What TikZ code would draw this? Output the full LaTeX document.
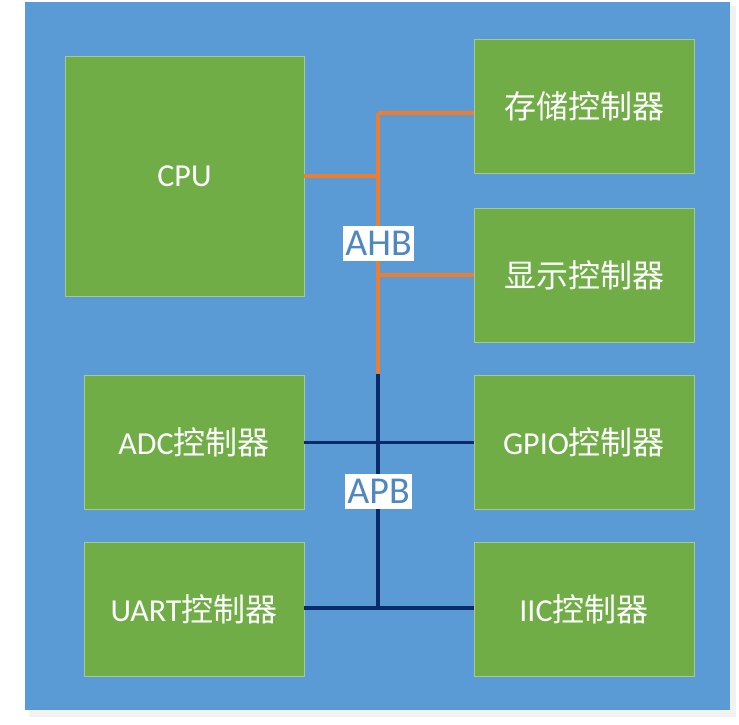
\documentclass[tikz,border=0pt]{standalone}
\usepackage{fontspec}
\setmainfont{Carlito}
\newfontfamily\cjk{Noto Sans CJK SC}
\usepackage{tikz}
\usetikzlibrary{positioning,calc}
\definecolor{socblue}{HTML}{5B9BD5}
\definecolor{ipgreen}{HTML}{70AD47}
\definecolor{ipline}{HTML}{A9C993}
\definecolor{ahbcol}{HTML}{ED7D31}
\definecolor{apbcol}{HTML}{0B2A6B}
\definecolor{labcol}{HTML}{4F87BF}

\begin{document}
\begin{tikzpicture}[
    x=1pt, y=-1pt,
    ipblock/.style={draw=ipline, line width=0.8pt, fill=ipgreen, text=white, minimum width=220pt, minimum height=134pt, font=\fontsize{32}{36}\selectfont, inner sep=0pt},
    buslabel/.style={fill=white, text=labcol, font=\fontsize{38}{42}\selectfont, inner xsep=2pt, inner ysep=5pt},
    ahbline/.style={draw=ahbcol, line width=3.2pt},
    apbline/.style={draw=apbcol, line width=3.2pt}
]
\useasboundingbox (0,0) rectangle (739,725);
% chip outline
\fill[black!5] (29,6) rectangle (736,717);
\fill[socblue] (25,2) rectangle (730,710);

\node[ipblock, minimum width=239pt, minimum height=240pt] (cpu) at (184.5,176) {CPU};
\node[ipblock] (mem) at (584,106.5) {\cjk 存储控制器};
\node[ipblock] (disp) at (584,275) {\cjk 显示控制器};
\node[ipblock] (gpio) at (584,442.5) {GPIO\cjk 控制器};
\node[ipblock] (iic) at (584,609) {IIC\cjk 控制器};
\node[ipblock] (adc) at (194,442.5) {ADC\cjk 控制器};
\node[ipblock] (uart) at (194,609) {UART\cjk 控制器};

\coordinate (ahbtop) at (378,113);
\coordinate (ahbbot) at (378,374);
\coordinate (apbbot) at (378,608);

% AHB
\draw[ahbline] (ahbtop) -- (ahbbot);
\draw[ahbline] (ahbtop) -- (ahbtop -| mem.west);
\draw[ahbline] (cpu.east) -- (cpu.east -| ahbtop);
\draw[ahbline] (disp.west) -- (disp.west -| ahbtop);

% APB
\draw[apbline] (ahbbot) -- (apbbot);
\draw[apbline] (adc.east) -- (gpio.west);
\draw[apbline] (uart.east |- apbbot) -- (iic.west |- apbbot);

\node[buslabel] (ahb) at (378.5,243.5) {AHB};
\node[buslabel] (apb) at (378.5,491.5) {APB};
\end{tikzpicture}
\end{document}
